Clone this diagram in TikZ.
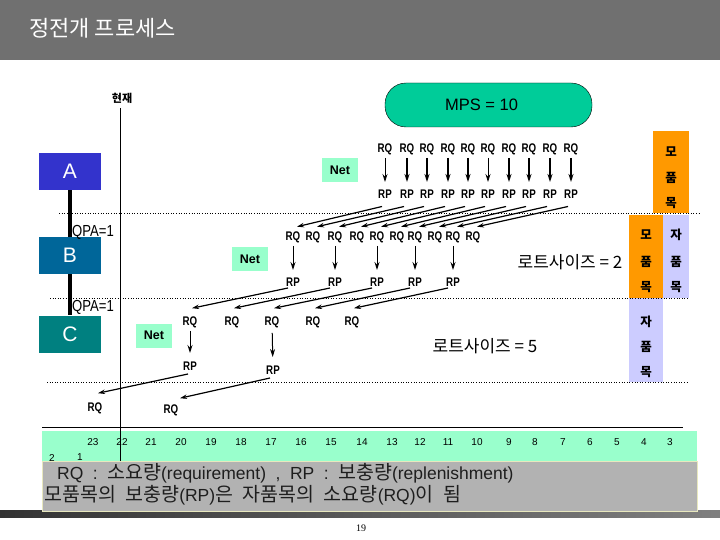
\documentclass[tikz,border=0pt]{standalone}
\usepackage{fontspec}
\setmainfont{Liberation Sans}
\newfontfamily\kr{Noto Sans CJK KR}
\newfontfamily\lab[FakeStretch=0.78]{Liberation Sans}
\newfontfamily\cond[FakeStretch=0.82]{Liberation Sans}
\newfontfamily\pgnum{Liberation Serif}
\newfontfamily\legl{Liberation Sans}
\newcommand\legfont{\legl\fontsize{17.5}{17.5}\selectfont\fontdimen2\font=9.5pt\relax}
\newcommand\K{\kr\fontsize{19.5}{19.5}\selectfont}
\usetikzlibrary{arrows.meta,calc}
\definecolor{titlegray}{RGB}{112,112,112}
\definecolor{netgreen}{RGB}{153,255,204}
\definecolor{mpsgreen}{RGB}{0,204,153}
\definecolor{colA}{RGB}{51,51,204}
\definecolor{colB}{RGB}{0,102,153}
\definecolor{colC}{RGB}{0,128,128}
\definecolor{orangeC}{RGB}{255,153,0}
\definecolor{purpleC}{RGB}{204,204,255}
\definecolor{boxgray}{RGB}{178,178,178}
\definecolor{beige}{RGB}{232,232,190}
\definecolor{legtext}{RGB}{30,30,30}
\begin{document}
\begin{tikzpicture}[x=1pt,y=-1pt,
  lbl/.style={font=\lab\bfseries\fontsize{12.5}{12.5}\selectfont, inner sep=1pt},
  down/.style={-{Stealth[length=8pt,width=5pt]}, line width=1pt, shorten <=2pt, shorten >=6.5pt},
  diag/.style={-{Stealth[length=7pt,width=4.5pt]}, line width=1.2pt},
  netbox/.style={fill=netgreen, font=\bfseries\fontsize{12.5}{12.5}\selectfont, minimum width=36pt, minimum height=24pt, inner sep=0pt},
  itembox/.style={text=white, font=\fontsize{21}{21}\selectfont, minimum width=62pt, minimum height=37pt, inner sep=0pt},
  vlab/.style={font=\kr\bfseries\fontsize{12.5}{12.5}\selectfont, inner sep=0pt},
  dotline/.style={dotted, line width=0.6pt},
  tnum/.style={font=\fontsize{10}{10}\selectfont, inner sep=0pt},
  legend/.style={anchor=base west, font=\legfont, text=legtext, inner sep=0pt}
]
\useasboundingbox (0,0) rectangle (720,540);
% title bar
\fill[titlegray] (0,0) rectangle (720,60);
\node[anchor=west, text=white, font=\kr\fontsize{22}{22}\selectfont, inner sep=0pt] (title) at (29,28) {정전개 프로세스};

% right side colored boxes
\fill[orangeC] (653,131) rectangle (689,213);
\fill[orangeC] (629,215) rectangle (663,298);
\fill[purpleC] (663,215) rectangle (689,298);
\fill[purpleC] (629,298) rectangle (663,382);
\node[vlab] (m1a) at (671,152) {모};
\node[vlab] (m1b) at (671,178) {품};
\node[vlab] (m1c) at (671,203) {목};
\node[vlab] (m2a) at (646,235) {모};
\node[vlab] (m2b) at (646,262) {품};
\node[vlab] (m2c) at (646,287) {목};
\node[vlab] (c2a) at (676,235) {자};
\node[vlab] (c2b) at (676,262) {품};
\node[vlab] (c2c) at (676,287) {목};
\node[vlab] (c3a) at (646,322) {자};
\node[vlab] (c3b) at (646,347) {품};
\node[vlab] (c3c) at (646,372) {목};

% dotted separators
\draw[dotline] (59,213) -- (700,213);
\draw[dotline] (50,298) -- (688,298);
\draw[dotline] (47,382) -- (688,382);

% now label
\node[font=\kr\bfseries\fontsize{11}{11}\selectfont, inner sep=0pt] (now) at (122,98) {현재};

% MPS
\node[draw, fill=mpsgreen, rounded corners=21pt, minimum width=207pt, minimum height=44pt, font=\fontsize{16.5}{16.5}\selectfont] (mps) at (488.5,105) {MPS = 10\rule{14pt}{0pt}};

% items
\node[itembox, fill=colA] (A) at (70,171.5) {A};
\node[itembox, fill=colB] (B) at (70,255.5) {B};
\node[itembox, fill=colC] (C) at (70,334) {C};
\draw[line width=4pt] (A.south) -- (B.north);
\draw[line width=4pt] (B.south) -- (C.north);
\node[anchor=west, font=\cond\fontsize{16}{16}\selectfont, inner sep=0pt] (qpa1) at (72,232) {QPA=1};
\node[anchor=west, font=\cond\fontsize{16}{16}\selectfont, inner sep=0pt] (qpa2) at (72,307) {QPA=1};

% Net boxes
\node[netbox] (netA) at (340,170) {Net};
\node[netbox] (netB) at (250,259) {Net};
\node[netbox] (netC) at (154,335.5) {Net};

% lot sizes
\node[font=\kr\fontsize{17}{17}\selectfont, inner sep=0pt] (lot2) at (570,262) {로트사이즈 = 2};
\node[font=\kr\fontsize{17}{17}\selectfont, inner sep=0pt] (lot5) at (485,346) {로트사이즈 = 5};

% level A: RQ / RP
\foreach \x/\w [count=\i] in {385/0.8,407/1.6,427/1.6,448/1.6,468/1.6,488/0.8,509/1.6,529/1.6,550/1.6,571/1.6} {
  \node[lbl] (rqa\i) at (\x,149) {RQ};
  \node[lbl] (rpa\i) at (\x,194) {RP};
  \draw[down, line width=\w pt] (rqa\i) -- (rpa\i);
}
% level B
\foreach \x [count=\i] in {293,313,335,357,377,397,415,435,453,473} {
  \node[lbl] (rqb\i) at (\x,237) {RQ};
}
\foreach \x [count=\i] in {293,335,377,415,453} {
  \node[lbl] (rpb\i) at (\x,282) {RP};
}
\foreach \a/\b in {1/1,3/2,5/3,7/4,9/5} {
  \draw[down] (rqb\a) -- (rpb\b);
}
\foreach \i in {1,...,10} {
  \draw[diag] ([xshift=-3pt,yshift=-7pt]rpa\i.south) -- ([xshift=4pt,yshift=3.5pt]rqb\i.north);
}
% level C
\foreach \x [count=\i] in {190,232,272,313,352} {
  \node[lbl] (rqc\i) at (\x,322) {RQ};
}
\foreach \i in {1,...,5} {
  \draw[diag] ([xshift=-5pt,yshift=-0.5pt]rpb\i.south) -- ([xshift=2pt,yshift=7pt]rqc\i.north);
}
\node[lbl] (rpc1) at (190,366) {RP};
\node[lbl] (rpc2) at (273,370) {RP};
\draw[down, shorten >=7.5pt] (rqc1) -- (rpc1);
\draw[down, shorten <=4pt, shorten >=7.5pt] (rqc3) -- (rpc2);
% level D
\node[lbl] (rqd1) at (95,408) {RQ};
\node[lbl] (rqd2) at (171,410) {RQ};
\draw[diag] ([xshift=-2pt,yshift=-2.5pt]rpc1.south) -- ([xshift=3pt,yshift=8pt]rqd1.north);
\draw[diag] ([xshift=-3pt,yshift=-2.5pt]rpc2.south) -- ([xshift=9pt,yshift=5pt]rqd2.north);

% timeline
\draw[line width=0.9pt] (42,427) -- (683,427);
\fill[netgreen] (42,431) rectangle (697,461);
\foreach \n/\x in {23/93,22/122,21/151,20/181,19/211,18/241,17/271,16/301,15/331,14/362,13/392,12/420,11/448,10/477,9/509,8/535,7/563,6/590,5/617,4/644,3/670} {
  \node[tnum] (t\n) at (\x,442) {\n};
}
\node[tnum] (t2) at (52,458) {2};
\node[tnum] (t1) at (80,457) {1};
\draw[line width=0.8pt] (120,108) -- (120,462);

% bottom bar and legend box
\shade[left color=black!80, right color=black!50] (0,510) rectangle (720,517);
\draw[draw=beige, fill=boxgray, line width=0.8pt] (42,461) rectangle (697,511);
\node[legend] (leg1) at (57,479) {RQ : {\K 소요량}(requirement) , RP : {\K 보충량}(replenishment)};
\node[legend] (leg2) at (44,501) {{\K 모품목의} {\K 보충량}(RP){\K 은} {\K 자품목의} {\K 소요량}(RQ){\K 이} {\K 됨}};

\node[font=\pgnum\fontsize{10}{10}\selectfont, inner sep=0pt] (pg) at (361,528) {19};
\end{tikzpicture}
\end{document}
